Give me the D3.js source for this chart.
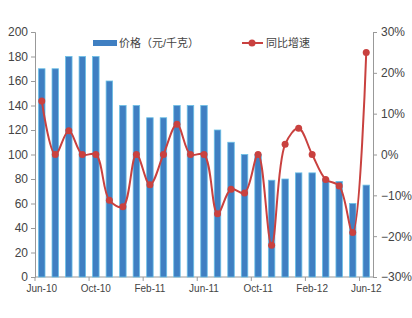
<!DOCTYPE html>
<html>
<head>
<meta charset="utf-8">
<script src="https://cdn.jsdelivr.net/npm/d3@7"></script>
<style>
  body { margin: 0; background: #fff; }
  text { font-family: "Liberation Sans", "Noto Sans CJK SC", sans-serif; fill: #444; }
</style>
</head>
<body>
<svg id="chart" width="412" height="318"></svg>
<script>
// 月份
let months = ['Jun-10','Jul-10','Aug-10','Sep-10','Oct-10','Nov-10','Dec-10',
  'Jan-11','Feb-11','Mar-11','Apr-11','May-11','Jun-11','Jul-11','Aug-11','Sep-11',
  'Oct-11','Nov-11','Dec-11','Jan-12','Feb-12','Mar-12','Apr-12','May-12','Jun-12'];
// 价格（元/千克）
let price = [170,170,180,180,180,160,140,140,130,130,140,140,140,120,110,100,100,79,80,85,85,80,78,60,75];
// 同比增速 (%)
let growth = [13.1,0,5.8,0,0,-11.2,-12.8,0,-7.4,0,7.4,0,0,-14.5,-8.5,-9.4,0,-22.2,2.5,6.4,0,-6.1,-7.7,-19.1,25];
let leftTicks = [0,20,40,60,80,100,120,140,160,180,200];
let rightTicks = [-30,-20,-10,0,10,20,30];
let labelMonths = ['Jun-10','Oct-10','Feb-11','Jun-11','Oct-11','Feb-12','Jun-12'];

let svg = d3.select('#chart');
let mLeft = 35, mRight = 373, mTop = 32, mBottom = 277;

let x = d3.scaleBand().domain(months).range([mLeft, mRight]);
let y = d3.scaleLinear().domain([0, 200]).range([mBottom, mTop]);
let y2 = d3.scaleLinear().domain([-30, 30]).range([mBottom, mTop]);

// Achsen
let gl = svg.append('g').attr('transform', 'translate(' + mLeft + ',0)')
  .call(d3.axisLeft(y).tickValues(leftTicks).tickSize(4).tickPadding(3));
let gr = svg.append('g').attr('transform', 'translate(' + mRight + ',0)')
  .call(d3.axisRight(y2).tickValues(rightTicks).tickSize(4).tickPadding(4)
    .tickFormat(function(d){ return (d < 0 ? '\u2212' : '') + Math.abs(d) + '%'; }));
[gl, gr].forEach(function(g){
  g.select('.domain').attr('stroke', '#999');
  g.selectAll('.tick line').attr('stroke', '#999');
  g.selectAll('.tick text').style('font-size', '12px').attr('fill', '#444');
});

// x-Achse
svg.append('line').attr('x1', mLeft).attr('x2', mRight).attr('y1', mBottom).attr('y2', mBottom)
  .attr('stroke', '#999');
let step = x.step();
svg.selectAll('.xtick').data(d3.range(0, months.length + 1, 4)).enter()
  .append('line').attr('class', 'xtick')
  .attr('x1', function(d){ return mLeft + d * step; })
  .attr('x2', function(d){ return mLeft + d * step; })
  .attr('y1', mBottom).attr('y2', mBottom + 4).attr('stroke', '#999');
svg.selectAll('.xlab').data(labelMonths).enter()
  .append('text').attr('class', 'xlab')
  .attr('x', function(d){ return x(d) + x.bandwidth() / 2; })
  .attr('y', mBottom + 15).attr('text-anchor', 'middle')
  .style('font-size', '10px').text(function(d){ return d; });

// Balken
let bw = 6.5;
svg.selectAll('.bar').data(months).enter()
  .append('rect').attr('class', 'bar')
  .attr('x', function(d){ return x(d) + x.bandwidth() / 2 - bw / 2; })
  .attr('y', function(d, i){ return y(price[i]); })
  .attr('width', bw)
  .attr('height', function(d, i){ return mBottom - y(price[i]); })
  .attr('fill', '#3f7fc2').attr('stroke', '#6cc0e6').attr('stroke-width', 0.8);

// Linie
let pts = months.map(function(d, i){ return [x(d) + x.bandwidth() / 2, y2(growth[i])]; });
svg.append('path').attr('d', d3.line().curve(d3.curveCatmullRom.alpha(0.5))(pts))
  .attr('fill', 'none').attr('stroke', '#c9413f').attr('stroke-width', 2);
svg.selectAll('.dot').data(pts).enter()
  .append('circle').attr('cx', function(d){ return d[0]; }).attr('cy', function(d){ return d[1]; })
  .attr('r', 3.5).attr('fill', '#c9413f');

// Legende
svg.append('rect').attr('x', 93).attr('y', 40).attr('width', 24).attr('height', 6).attr('fill', '#3f7fc2');
svg.append('text').attr('x', 119).attr('y', 47).style('font-size', '11px').text('价格（元/千克）');
svg.append('line').attr('x1', 242).attr('x2', 263).attr('y1', 43).attr('y2', 43)
  .attr('stroke', '#c9413f').attr('stroke-width', 2);
svg.append('circle').attr('cx', 252).attr('cy', 43).attr('r', 3.5).attr('fill', '#c9413f');
svg.append('text').attr('x', 266).attr('y', 47).style('font-size', '11px').text('同比增速');
</script>
</body>
</html>
